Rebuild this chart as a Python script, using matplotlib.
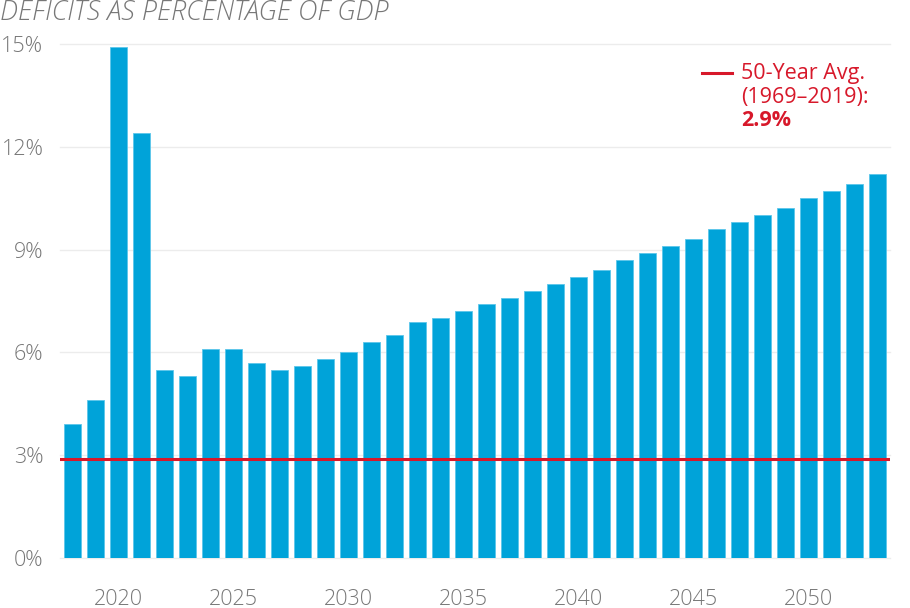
import numpy as np
import matplotlib.pyplot as plt

years = list(range(2018, 2054))
deficits = [3.9, 4.6, 14.9, 12.4, 5.5, 5.3, 6.1, 6.1, 5.7, 5.5,
            5.6, 5.8, 6.0, 6.3, 6.5, 6.9, 7.0, 7.2, 7.4, 7.6,
            7.8, 8.0, 8.2, 8.4, 8.7, 8.9, 9.1, 9.3, 9.6, 9.8,
            10.0, 10.2, 10.5, 10.7, 10.9, 11.2]
avg_50yr = 2.9
y_ticks = [0, 3, 6, 9, 12, 15]
x_ticks = [2020, 2025, 2030, 2035, 2040, 2045, 2050]

plt.rcParams['font.family'] = ['Open Sans', 'DejaVu Sans']
blue = '#00a3d9'
red = '#d7182a'
grey = '#777777'

fig = plt.figure(figsize=(9.1, 6.08), dpi=100)
ax = fig.add_axes([60 / 910, 1 - 558 / 608, 830 / 910, 514 / 608])

ax.bar(years, deficits, width=0.74, color=blue, edgecolor='#5cc6ea', linewidth=0.6, zorder=2)
ax.axhline(avg_50yr, color=red, linewidth=2.2, zorder=3)

ax.set_xlim(2017.45, 2053.55)
ax.set_ylim(0, 15)
ax.set_yticks(y_ticks)
ax.set_yticklabels([f'{v}%' for v in y_ticks])
ax.set_xticks(x_ticks)
ax.grid(axis='y', color='#ececec', linewidth=1, zorder=0)
for gl in ax.get_ygridlines():
    gl.set_clip_on(False)
ax.tick_params(axis='both', length=0, labelsize=15.5, labelcolor=grey)
ax.tick_params(axis='y', pad=12)
ax.tick_params(axis='x', pad=22)
for lbl in ax.get_xticklabels() + ax.get_yticklabels():
    lbl.set_fontweight('light')
for s in ax.spines.values():
    s.set_visible(False)

fig.text(0.0, 1 - 13 / 608, 'DEFICITS AS PERCENTAGE OF GDP', fontsize=19.5,
         style='italic', fontweight='light', color=grey, va='center', ha='left')

# legend for the average line
fig.add_artist(plt.Line2D([702 / 910, 732 / 910], [1 - 73 / 608] * 2, color=red, linewidth=2.2))
fig.text(741 / 910, 1 - 73 / 608, '50-Year Avg.', fontsize=15.5, color=red, va='center')
fig.text(741 / 910, 1 - 97 / 608, '(1969–2019):', fontsize=15.5, color=red, va='center')
fig.text(741 / 910, 1 - 120 / 608, f'{avg_50yr}%', fontsize=15.5, color=red,
         fontweight='bold', va='center')

fig.savefig('out.png', dpi=100)
